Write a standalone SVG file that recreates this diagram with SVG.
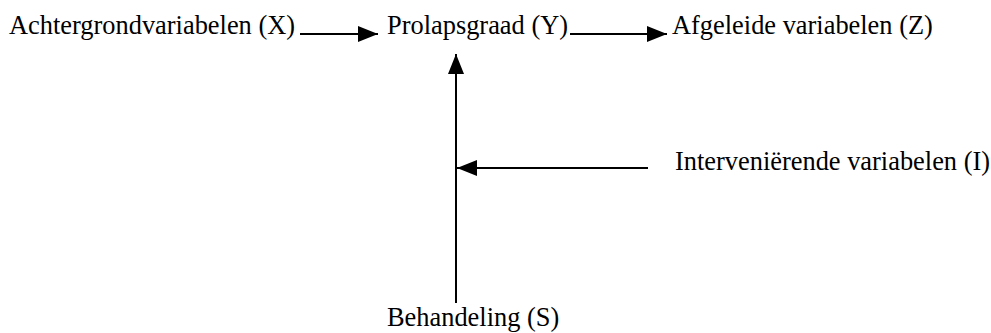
<svg xmlns="http://www.w3.org/2000/svg" width="991" height="333" viewBox="0 0 991 333">
<style>
text{font-family:"Liberation Serif","Times New Roman",serif;font-size:26.4px;fill:#000}
.c line{stroke:#000;stroke-width:2}
</style>
<defs>
<marker id="ah" viewBox="0 0 20 16" refX="20" refY="8" markerWidth="20" markerHeight="16" markerUnits="userSpaceOnUse" orient="auto">
<path d="M0,0 L20,8 L0,16 Z" fill="#000"/>
</marker>
</defs>
<rect width="991" height="333" fill="#fff"/>
<g id="nodeX"><text x="9" y="34">Achtergrondvariabelen (X)</text></g>
<g id="nodeY"><text x="387" y="34">Prolapsgraad (Y)</text></g>
<g id="nodeZ"><text x="672" y="34">Afgeleide variabelen (Z)</text></g>
<g id="nodeI"><text x="675" y="170">Interveniërende variabelen (I)</text></g>
<g id="nodeS"><text x="387" y="326">Behandeling (S)</text></g>
<g class="c" id="connectors">
<line x1="300" y1="34" x2="378" y2="34" marker-end="url(#ah)"/>
<line x1="570" y1="34" x2="667" y2="34" marker-end="url(#ah)"/>
<line x1="456" y1="303" x2="456" y2="54" marker-end="url(#ah)"/>
<line x1="648" y1="168" x2="457" y2="168" marker-end="url(#ah)"/>
</g>
</svg>
